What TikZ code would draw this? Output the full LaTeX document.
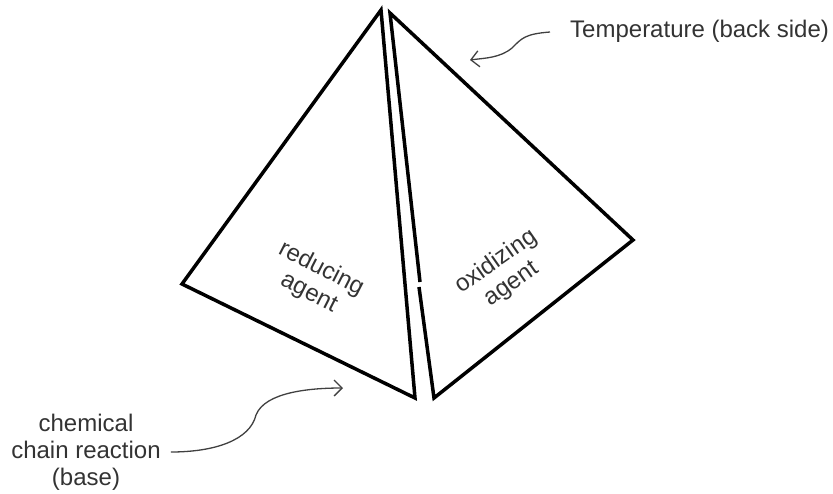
\documentclass[tikz,border=0pt]{standalone}
\usepackage{fontspec}
\setmainfont{Liberation Sans}
\usetikzlibrary{arrows.meta}

\begin{document}
\begin{tikzpicture}[x=1pt,y=-1pt,
  face/.style={line width=3.5pt,line join=miter},
  label/.style={font=\fontsize{24}{27}\selectfont,text=black!80,align=center,inner sep=0pt},
  pointer/.style={draw=black!75,line width=1.3pt,-{Straight Barb[length=8pt,width=16pt]}}]
\useasboundingbox (0,0) rectangle (833,493);
% left face
\draw[face] (381,10) -- (182,284) -- (415,398) -- cycle;
% right face, with the small break in its left edge
\draw[face] (420,282) -- (390,13) -- (633,240) -- (434,398) -- (419,287);
\node[label,rotate=-27] (red) at (315,281) {reducing\\agent};
\node[label,rotate=35] (oxi) at (504,273) {oxidizing\\agent};
% outside labels
\node[label,anchor=west] (temp) at (570,31) {Temperature (back side)};
\node[label] (base) at (86,452) {chemical\\chain reaction\\(base)};
\coordinate (tempTip) at (470,60);
\coordinate (baseTip) at (343,388);
\draw[pointer] (temp.west) ++(-20,1) .. controls (525,34) and (522,38) .. (512,48)
  .. controls (500,58) and (485,58) .. (tempTip);
\draw[pointer] (base.east) ++(10,0) .. controls (215,452) and (250,440) .. (256,415)
  .. controls (265,392) and (310,388) .. (baseTip);
\end{tikzpicture}
\end{document}
